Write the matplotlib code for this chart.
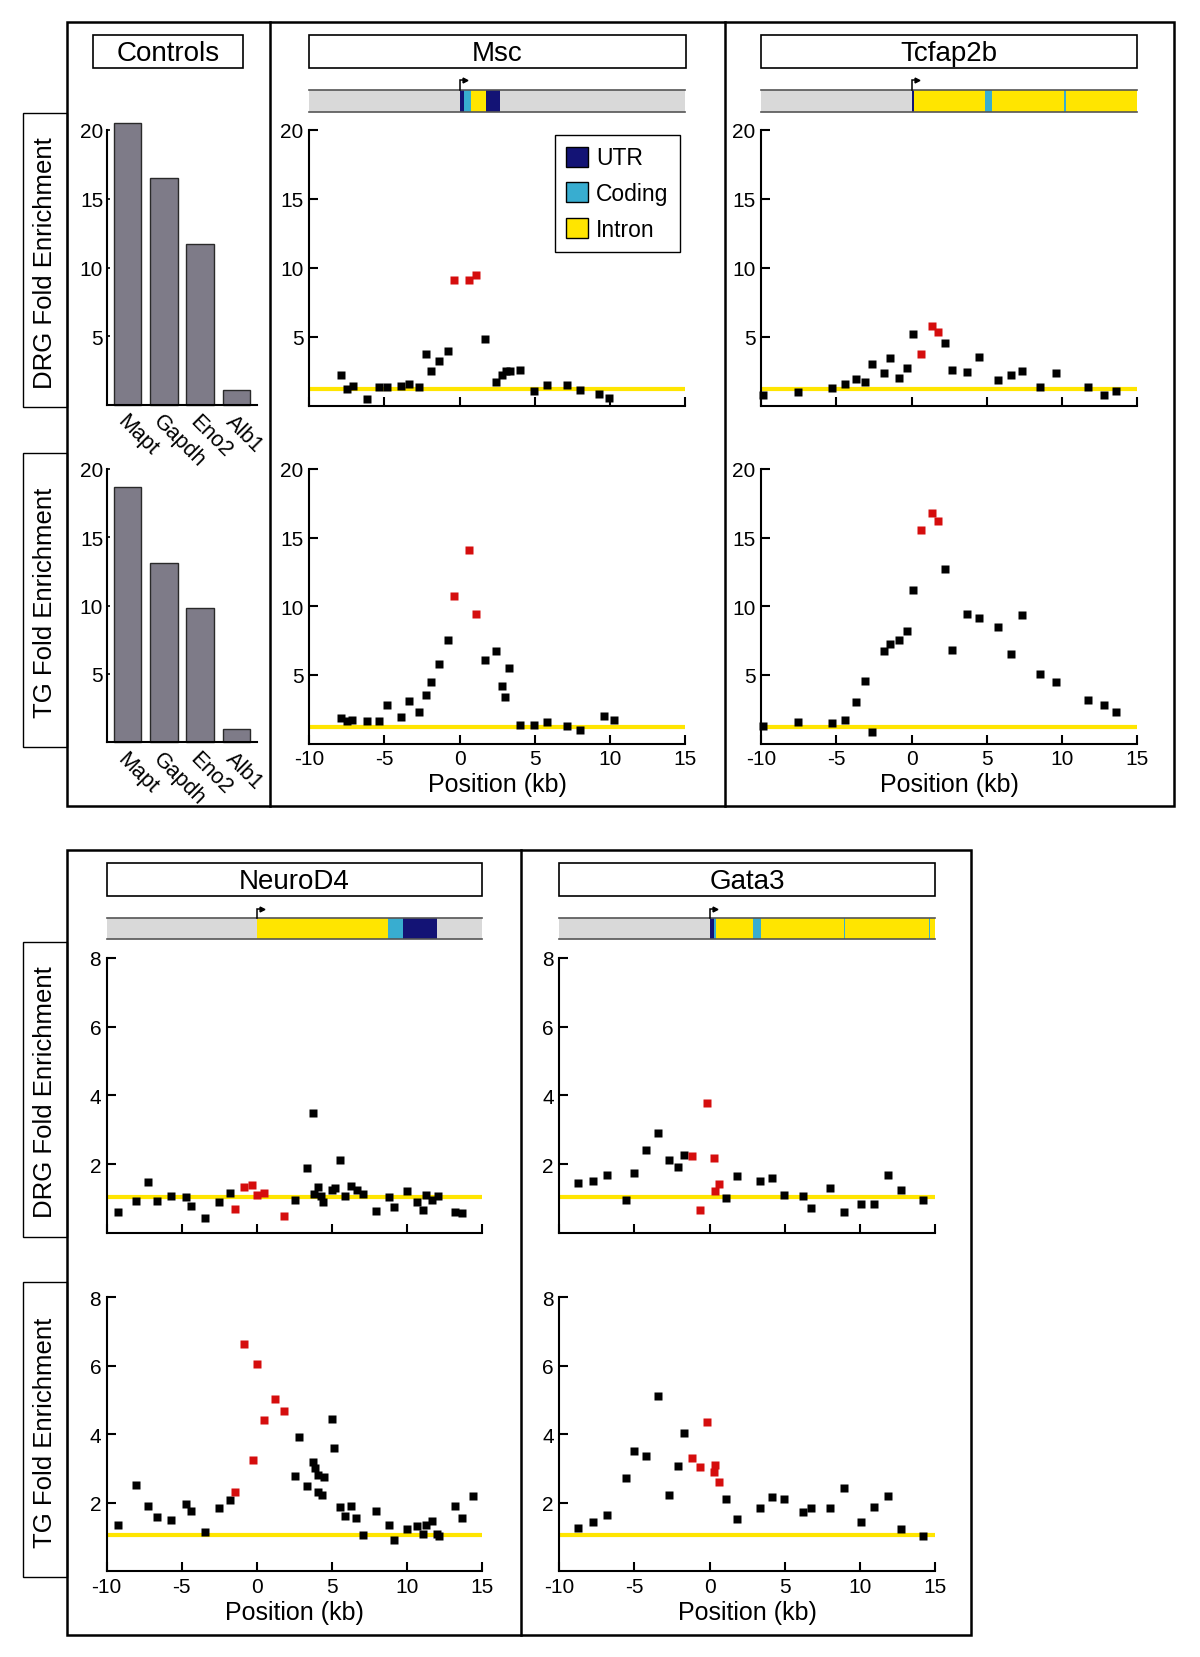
import numpy as np
import matplotlib.pyplot as plt
from matplotlib.patches import Rectangle, Patch

plt.rcParams['font.family'] = ['Liberation Sans', 'DejaVu Sans']
plt.rcParams['axes.unicode_minus'] = False

# ---- data ----
control_genes = ['Mapt', 'Gapdh', 'Eno2', 'Alb1']
control_drg = [20.5, 16.5, 11.7, 1.1]
control_tg = [18.7, 13.1, 9.8, 1.0]

msc_drg_x = [-7.89, -7.47, -7.11, -6.16, -5.36, -4.8, -3.91, -3.36, -2.67, -2.22, -1.93, -1.36, -0.8,
             1.69, 2.4, 2.82, 3.07, 3.33, 4.04, 4.93, 5.84, 7.16, 8.04, 9.29, 9.96]
msc_drg_y = [2.23, 1.21, 1.45, 0.48, 1.33, 1.33, 1.38, 1.57, 1.33, 3.73, 2.54, 3.22, 3.95,
             4.84, 1.69, 2.23, 2.47, 2.54, 2.59, 1.02, 1.5, 1.5, 1.16, 0.85, 0.56]
msc_drg_red_x = [-0.38, 0.6, 1.11]
msc_drg_red_y = [9.08, 9.08, 9.44]

msc_tg_x = [-7.89, -7.47, -7.16, -6.16, -5.36, -4.8, -3.91, -3.36, -2.67, -2.22, -1.93, -1.36, -0.8,
            1.69, 2.4, 2.82, 3.0, 3.29, 4.04, 4.93, 5.82, 7.16, 8.04, 9.6, 10.29]
msc_tg_y = [1.84, 1.63, 1.72, 1.63, 1.67, 2.82, 1.92, 3.08, 2.33, 3.5, 4.51, 5.8, 7.52,
            6.12, 6.77, 4.17, 3.37, 5.49, 1.36, 1.36, 1.6, 1.31, 0.95, 1.97, 1.72]
msc_tg_red_x = [-0.38, 0.6, 1.11]
msc_tg_red_y = [10.78, 14.1, 9.44]

tcfap2b_x = [-9.89, -7.56, -5.29, -4.4, -3.69, -3.07, -2.6, -1.82, -1.42, -0.82, -0.31, 0.11,
             2.24, 2.69, 3.67, 4.47, 5.73, 6.62, 7.31, 8.56, 9.6, 11.71, 12.76, 13.6]
tcfap2b_drg_y = [0.78, 0.97, 1.28, 1.57, 1.94, 1.7, 3.03, 2.33, 3.47, 2.01, 2.74, 5.16,
                 4.51, 2.57, 2.42, 3.54, 1.82, 2.23, 2.54, 1.33, 2.33, 1.33, 0.73, 1.04]
tcfap2b_tg_y = [1.26, 1.6, 1.46, 1.72, 3.01, 4.54, 0.83, 6.72, 7.26, 7.57, 8.2, 11.21,
                12.72, 6.84, 9.42, 9.13, 8.52, 6.53, 9.37, 5.05, 4.47, 3.18, 2.77, 2.33]
tcfap2b_red_x = [0.6, 1.33, 1.76]
tcfap2b_drg_red_y = [3.76, 5.74, 5.33]
tcfap2b_tg_red_y = [15.58, 16.8, 16.24]

neurod4_drg_x = [-9.27, -8.04, -7.22, -6.62, -5.71, -4.73, -4.38, -3.42, -2.53, -1.78,
                 2.53, 3.36, 3.73, 3.84, 4.11, 4.29, 4.4, 5.0, 5.22, 5.56,
                 5.89, 6.29, 6.67, 7.11, 7.96, 8.84, 9.18, 10.0, 10.67, 11.07,
                 11.29, 11.67, 12.11, 13.22, 13.69]
neurod4_drg_y = [0.61, 0.93, 1.47, 0.91, 1.06, 1.03, 0.79, 0.44, 0.9, 1.17,
                 0.95, 1.88, 3.48, 1.13, 1.32, 1.08, 0.88, 1.25, 1.29, 2.12,
                 1.08, 1.35, 1.25, 1.13, 0.64, 1.03, 0.76, 1.2, 0.88, 0.67,
                 1.11, 0.96, 1.08, 0.61, 0.56]
neurod4_drg_red_x = [-1.42, -0.84, -0.29, 0.04, 0.51, 1.82]
neurod4_drg_red_y = [0.69, 1.34, 1.39, 1.11, 1.15, 0.5]

neurod4_tg_x = [-9.27, -8.04, -7.22, -6.62, -5.71, -4.73, -4.38, -3.42, -2.53, -1.78,
                2.53, 2.82, 3.36, 3.73, 3.89, 4.11, 4.11, 4.33, 4.51, 5.0,
                5.16, 5.56, 5.89, 6.29, 6.62, 7.11, 7.96, 8.84, 9.18, 10.0,
                10.67, 11.07, 11.29, 11.67, 12.0, 12.18, 13.22, 13.69, 14.4]
neurod4_tg_y = [1.35, 2.52, 1.9, 1.6, 1.5, 1.96, 1.77, 1.16, 1.84, 2.09,
                2.79, 3.91, 2.5, 3.2, 3.03, 2.81, 2.31, 2.24, 2.74, 4.45,
                3.6, 1.87, 1.62, 1.9, 1.55, 1.06, 1.77, 1.35, 0.92, 1.24,
                1.31, 1.09, 1.35, 1.48, 1.09, 1.04, 1.9, 1.55, 2.19]
neurod4_tg_red_x = [-1.42, -0.84, -0.24, 0.0, 0.51, 1.22, 1.82]
neurod4_tg_red_y = [2.32, 6.63, 3.25, 6.05, 4.43, 5.03, 4.69]

gata3_x = [-8.73, -7.78, -6.84, -5.56, -5.0, -4.22, -3.4, -2.67, -2.13, -1.67, 1.11, 1.84,
           3.33, 4.18, 4.93, 6.2, 6.78, 8.0, 8.93, 10.09, 10.93, 11.89, 12.71, 14.2]
gata3_drg_y = [1.44, 1.51, 1.69, 0.96, 1.73, 2.42, 2.89, 2.13, 1.9, 2.27, 1.0, 1.66,
               1.5, 1.58, 1.1, 1.08, 0.71, 1.29, 0.61, 0.83, 0.83, 1.69, 1.25, 0.95]
gata3_tg_y = [1.25, 1.43, 1.65, 2.71, 3.52, 3.38, 5.11, 2.23, 3.08, 4.04, 2.11, 1.53,
              1.84, 2.16, 2.11, 1.72, 1.84, 1.84, 2.42, 1.43, 1.89, 2.19, 1.24, 1.02]
gata3_red_x = [-1.18, -0.67, -0.18, 0.27, 0.38, 0.6]
gata3_drg_red_y = [2.22, 0.67, 3.78, 2.19, 1.2, 1.42]
gata3_tg_red_y = [3.3, 3.04, 4.35, 2.91, 3.1, 2.6]

# gene structures (start kb, end kb, kind)
msc_gene = [(0.0, 0.27, 'UTR'), (0.27, 0.78, 'Coding'), (0.78, 1.78, 'Intron'), (1.78, 2.67, 'UTR')]
tcfap2b_gene = [(0.0, 0.18, 'UTR'), (0.18, 15.0, 'Intron'), (4.89, 5.33, 'Coding'), (10.15, 10.25, 'Coding')]
neurod4_gene = [(0.0, 8.78, 'Intron'), (8.78, 9.73, 'Coding'), (9.73, 12.04, 'UTR')]
gata3_gene = [(0.0, 0.27, 'UTR'), (0.27, 0.44, 'Coding'), (0.44, 15.0, 'Intron'), (2.87, 3.4, 'Coding'),
              (8.93, 9.03, 'Coding'), (14.62, 14.7, 'Coding')]

# baseline (yellow line)
base_20 = 1.22
base_8 = 1.05

YELLOW = '#ffe500'
RED = '#d50d0d'
NAVY = '#131375'
CYAN = '#38add0'
part_colors = {'UTR': NAVY, 'Coding': CYAN, 'Intron': YELLOW}

W, H = 1200, 1658
fig = plt.figure(figsize=(W / 100, H / 100), dpi=100)


def px_axes(l, t, r, b):
    return fig.add_axes([l / W, 1 - b / H, (r - l) / W, (b - t) / H])


# overlay for frames and labels
ov = fig.add_axes([0, 0, 1, 1])
ov.set_xlim(0, W)
ov.set_ylim(H, 0)
ov.axis('off')


def box(x0, y0, x1, y1, lw):
    ov.add_patch(Rectangle((x0, y0), x1 - x0, y1 - y0, fill=False, ec='black', lw=lw))


box(66.7, 22.5, 1174, 807, 1.8)
ov.plot([270, 270], [22.5, 807], color='black', lw=1.8)
ov.plot([724.5, 724.5], [22.5, 807], color='black', lw=1.8)
box(66.7, 851, 971, 1636, 1.8)
ov.plot([521, 521], [851, 1636], color='black', lw=1.8)

side_boxes = [(114.3, 408.3, 'DRG Fold Enrichment'), (454, 748.3, 'TG Fold Enrichment'),
              (942.7, 1238, 'DRG Fold Enrichment'), (1283.3, 1577.7, 'TG Fold Enrichment')]
for y0, y1, lab in side_boxes:
    box(22.7, y0, 66.7, y1, 1.0)
    ov.text(44.7, (y0 + y1) / 2 + 2, lab, rotation=90, ha='center', va='center', fontsize=18.5)

title_boxes = [(93.3, 36, 243.3, 69.3, 'Controls'), (309.3, 36, 685.7, 69.3, 'Msc'),
               (761, 36, 1137.3, 69.3, 'Tcfap2b'), (106.7, 864, 481.7, 897.3, 'NeuroD4'),
               (559.3, 864, 935, 897.3, 'Gata3')]
for x0, y0, x1, y1, lab in title_boxes:
    box(x0, y0, x1, y1, 1.2)
    ov.text((x0 + x1) / 2, (y0 + y1) / 2 + 1, lab, ha='center', va='center', fontsize=20)


def style_axes(ax):
    for s in ['top', 'right']:
        ax.spines[s].set_visible(False)
    for s in ['left', 'bottom']:
        ax.spines[s].set_linewidth(1.5)
    ax.set_facecolor('none')


def control_panel(ax, vals):
    ax.bar(range(4), vals, width=0.76, color='#7e7b88', edgecolor='#2a2a2a', lw=1, clip_on=False)
    ax.set_xlim(-0.56, 3.57)
    ax.set_ylim(0, 20)
    ax.set_yticks([5, 10, 15, 20])
    style_axes(ax)
    ax.tick_params(axis='y', direction='in', length=2.5, width=1.2, labelsize=15, pad=3)
    ax.set_xticks(range(4))
    ax.set_xticklabels(control_genes, rotation=-45, ha='left', va='top',
                       rotation_mode='anchor', fontsize=15.5)
    ax.tick_params(axis='x', length=0, pad=4)


def scatter_panel(ax, x, y, rx, ry, ymax, yticks, base, bottom_row):
    ax.axhline(base, color=YELLOW, lw=3, zorder=1)
    ax.plot(x, y, 's', color='black', ms=6.4, mec='none', clip_on=False, zorder=3)
    ax.plot(rx, ry, 's', color=RED, ms=6.4, mec='none', clip_on=False, zorder=3)
    ax.set_xlim(-10, 15)
    ax.set_ylim(0, ymax)
    ax.set_xticks([-10, -5, 0, 5, 10, 15])
    ax.set_yticks(yticks)
    style_axes(ax)
    ax.tick_params(direction='in', length=6.5, width=1.5, labelsize=15, pad=4)
    if bottom_row:
        ax.set_xlabel('Position (kb)', fontsize=18, va='center')
        ax.xaxis.set_label_coords(0.5, -0.147)
    else:
        ax.set_xticklabels([])


def gene_bar(ax, parts):
    ax.set_xlim(-10, 15)
    ax.set_ylim(0, 1)
    ax.axis('off')
    ax.add_patch(Rectangle((-10, 0), 25, 1, fc='#d9d9d9', ec='none'))
    for s, e, kind in parts:
        ax.add_patch(Rectangle((s, 0), e - s, 1, fc=part_colors[kind], ec='none'))
    ax.plot([-10, 15], [1, 1], color='#555555', lw=1.2, clip_on=False)
    ax.plot([-10, 15], [0, 0], color='#555555', lw=1.2, clip_on=False)
    ax.plot([0.02, 0.02, 0.3], [1, 1.42, 1.42], color='black', lw=1.1, clip_on=False,
            solid_joinstyle='miter')
    ax.plot([0.38], [1.42], marker='>', color='black', ms=3.5, clip_on=False)


# controls
control_panel(px_axes(107.3, 131, 257.3, 406), control_drg)
control_panel(px_axes(107.3, 470, 257.3, 743.3), control_tg)

# Msc
gene_bar(px_axes(309.3, 90.7, 685, 112.7), msc_gene)
ax = px_axes(309.3, 131, 685, 406.5)
scatter_panel(ax, msc_drg_x, msc_drg_y, msc_drg_red_x, msc_drg_red_y, 20, [5, 10, 15, 20], base_20, False)
ax.legend(handles=[Patch(fc=part_colors[k], ec='black', lw=1, label=k) for k in ['UTR', 'Coding', 'Intron']],
          loc='upper right', bbox_to_anchor=(0.987, 0.982), borderaxespad=0, fontsize=16.5,
          fancybox=False, edgecolor='black', framealpha=1, handlelength=0.97, handleheight=0.97,
          labelspacing=0.55, borderpad=0.5, handletextpad=0.35).get_frame().set_linewidth(1)
ax = px_axes(309.3, 470, 685, 744.5)
scatter_panel(ax, msc_tg_x, msc_tg_y, msc_tg_red_x, msc_tg_red_y, 20, [5, 10, 15, 20], base_20, True)

# Tcfap2b
gene_bar(px_axes(761, 90.7, 1137.3, 112.7), tcfap2b_gene)
ax = px_axes(761, 131, 1137.3, 406.5)
scatter_panel(ax, tcfap2b_x, tcfap2b_drg_y, tcfap2b_red_x, tcfap2b_drg_red_y, 20, [5, 10, 15, 20], base_20, False)
ax = px_axes(761, 470, 1137.3, 744.5)
scatter_panel(ax, tcfap2b_x, tcfap2b_tg_y, tcfap2b_red_x, tcfap2b_tg_red_y, 20, [5, 10, 15, 20], base_20, True)

# NeuroD4
gene_bar(px_axes(106.7, 919, 481.7, 940), neurod4_gene)
ax = px_axes(106.7, 959, 481.7, 1233.7)
scatter_panel(ax, neurod4_drg_x, neurod4_drg_y, neurod4_drg_red_x, neurod4_drg_red_y, 8, [2, 4, 6, 8], base_8, False)
ax = px_axes(106.7, 1298.3, 481.7, 1572.3)
scatter_panel(ax, neurod4_tg_x, neurod4_tg_y, neurod4_tg_red_x, neurod4_tg_red_y, 8, [2, 4, 6, 8], base_8, True)

# Gata3
gene_bar(px_axes(559.3, 919, 935, 940), gata3_gene)
ax = px_axes(559.3, 959, 935, 1233.7)
scatter_panel(ax, gata3_x, gata3_drg_y, gata3_red_x, gata3_drg_red_y, 8, [2, 4, 6, 8], base_8, False)
ax = px_axes(559.3, 1298.3, 935, 1572.3)
scatter_panel(ax, gata3_x, gata3_tg_y, gata3_red_x, gata3_tg_red_y, 8, [2, 4, 6, 8], base_8, True)

fig.savefig('out.png', dpi=100)
